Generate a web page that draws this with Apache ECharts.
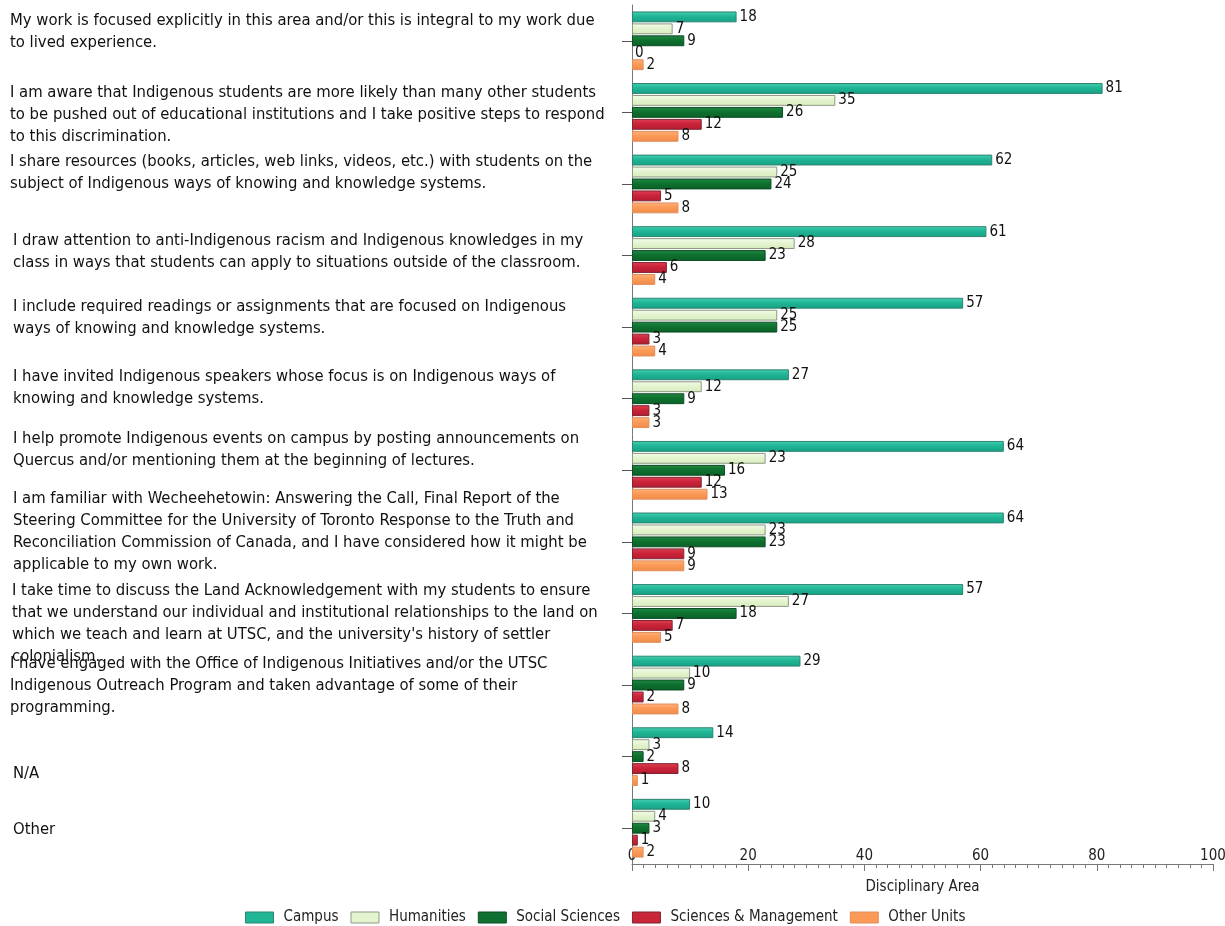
<!DOCTYPE html>
<html>
<head>
<meta charset="utf-8">
<title>Disciplinary Area</title>
<script src="https://cdn.jsdelivr.net/npm/echarts@6/dist/echarts.min.js"></script>
<style>
  html, body { margin: 0; padding: 0; background: #ffffff; }
  #chart { width: 1225px; height: 926px; }
</style>
</head>
<body>
<div id="chart"></div>
<script>
// Survey statements (top to bottom)
const categories = [
  'My work is focused explicitly in this area and/or this is integral to my work due\nto lived experience.',
  'I am aware that Indigenous students are more likely than many other students\nto be pushed out of educational institutions and I take positive steps to respond\nto this discrimination.',
  'I share resources (books, articles, web links, videos, etc.) with students on the\nsubject of Indigenous ways of knowing and knowledge systems.',
  'I draw attention to anti-Indigenous racism and Indigenous knowledges in my\nclass in ways that students can apply to situations outside of the classroom.',
  'I include required readings or assignments that are focused on Indigenous\nways of knowing and knowledge systems.',
  'I have invited Indigenous speakers whose focus is on Indigenous ways of\nknowing and knowledge systems.',
  'I help promote Indigenous events on campus by posting announcements on\nQuercus and/or mentioning them at the beginning of lectures.',
  'I am familiar with Wecheehetowin: Answering the Call, Final Report of the\nSteering Committee for the University of Toronto Response to the Truth and\nReconciliation Commission of Canada, and I have considered how it might be\napplicable to my own work.',
  'I take time to discuss the Land Acknowledgement with my students to ensure\nthat we understand our individual and institutional relationships to the land on\nwhich we teach and learn at UTSC, and the university\'s history of settler\ncolonialism.',
  'I have engaged with the Office of Indigenous Initiatives and/or the UTSC\nIndigenous Outreach Program and taken advantage of some of their\nprogramming.',
  'N/A',
  'Other'
];

// Vertical shift of each statement relative to its bar group (px, + = down)
const labelShift = [-9, 2, -11, -4, -9, -11, -21, -10, 10, 1, 17, 2];
// Small left indent of some statements (px)
const labelIndent = [0, 0, 0, 3, 3, 3, 3, 3, 2, 0, 3, 3];

const seriesNames = ['Campus', 'Humanities', 'Social Sciences', 'Sciences & Management', 'Other Units'];

const campus         = [18, 81, 62, 61, 57, 27, 64, 64, 57, 29, 14, 10];
const humanities     = [ 7, 35, 25, 28, 25, 12, 23, 23, 27, 10,  3,  4];
const socialSciences = [ 9, 26, 24, 23, 25,  9, 16, 23, 18,  9,  2,  3];
const sciencesMgmt   = [ 0, 12,  5,  6,  3,  3, 12,  9,  7,  2,  8,  1];
const otherUnits     = [ 2,  8,  8,  4,  4,  3, 13,  9,  5,  8,  1,  2];

const xTicks = [0, 20, 40, 60, 80, 100];

const seriesValues = [campus, humanities, socialSciences, sciencesMgmt, otherUnits];

// fill: [top, middle, bottom], border
const palette = [
  { fill: ['#45d0b2', '#1fb595', '#17a085'], border: '#2e8470' },
  { fill: ['#f6fcec', '#e4f4cf', '#d8ecbd'], border: '#8d9a85' },
  { fill: ['#238a45', '#0e712f', '#0a6027'], border: '#0d4d24' },
  { fill: ['#e04053', '#ca2439', '#b41b31'], border: '#7e2530' },
  { fill: ['#ffb27c', '#fb9a57', '#f08a48'], border: '#e08e5e' }
];

const FONT = 'DejaVu Sans Condensed';

function gradient(stops) {
  return new echarts.graphic.LinearGradient(0, 0, 0, 1, [
    { offset: 0, color: stops[0] },
    { offset: 0.45, color: stops[1] },
    { offset: 1, color: stops[2] }
  ]);
}

// Empty spacer tokens used to nudge a statement beside its group
const spacerRich = {};
labelShift.forEach(s => {
  if (s !== 0) spacerRich['g' + Math.abs(s)] = { lineHeight: 2 * Math.abs(s), fontSize: 1 };
});
labelIndent.forEach(w => {
  if (w > 0) spacerRich['w' + w] = { width: w, fontSize: 1 };
});

function statementLabel(value, index) {
  const s = labelShift[index];
  const w = labelIndent[index];
  let text = value;
  if (w > 0) text = value.split('\n').map(line => '{w' + w + '|}' + line).join('\n');
  if (s > 0) return '{g' + s + '|}\n' + text;
  if (s < 0) return text + '\n{g' + (-s) + '|}';
  return text;
}

const chart = echarts.init(document.getElementById('chart'), null, { renderer: 'canvas' });

chart.setOption({
  animation: false,
  backgroundColor: '#ffffff',
  textStyle: { fontFamily: FONT },
  grid: { left: 632, right: 12, top: 5, bottom: 62, containLabel: false, outerBoundsMode: 'none' },
  legend: {
    bottom: 1,
    left: 245,
    padding: 0,
    itemWidth: 28,
    itemHeight: 11,
    itemGap: 12,
    textStyle: { fontFamily: FONT, fontSize: 15, color: '#222', padding: [0, 0, 0, 5] },
    data: seriesNames.map((n, i) => ({
      name: n,
      icon: 'rect',
      itemStyle: { color: palette[i].fill[1], borderColor: palette[i].border, borderWidth: 1 }
    }))
  },
  xAxis: {
    type: 'value',
    min: xTicks[0],
    max: xTicks[xTicks.length - 1],
    interval: 20,
    name: 'Disciplinary Area',
    nameLocation: 'middle',
    nameGap: 16,
    nameTextStyle: { fontFamily: FONT, fontSize: 15, color: '#222' },
    axisLine: { show: true, lineStyle: { color: '#777', width: 1 } },
    axisTick: { show: true, inside: false, length: 7, lineStyle: { color: '#777' } },
    minorTick: { show: true, splitNumber: 10, length: 4, lineStyle: { color: '#777' } },
    axisLabel: {
      inside: true,
      margin: 0,
      fontFamily: FONT,
      fontSize: 15,
      color: '#222',
      formatter: v => (xTicks.indexOf(v) >= 0 ? String(v) : '')
    },
    splitLine: { show: false }
  },
  yAxis: {
    type: 'category',
    inverse: true,
    data: categories,
    axisLine: { show: true, lineStyle: { color: '#777', width: 1 } },
    axisTick: { show: true, alignWithLabel: true, length: 10, lineStyle: { color: '#555' } },
    axisLabel: {
      margin: 622,
      align: 'left',
      verticalAlign: 'middle',
      fontFamily: FONT,
      fontSize: 16.5,
      lineHeight: 22,
      color: '#111',
      interval: 0,
      formatter: statementLabel,
      rich: spacerRich
    }
  },
  series: seriesValues.map((vals, i) => ({
    name: seriesNames[i],
    type: 'bar',
    data: vals.map(v => (v === 0 ? { value: v, itemStyle: { borderWidth: 0 } } : v)),
    barCategoryGap: '18%',
    barGap: '10%',
    itemStyle: {
      color: gradient(palette[i].fill),
      borderColor: palette[i].border,
      borderWidth: 1
    },
    label: {
      show: true,
      position: 'right',
      distance: 3,
      fontFamily: FONT,
      fontSize: 15,
      color: '#111'
    }
  }))
});
</script>
</body>
</html>
